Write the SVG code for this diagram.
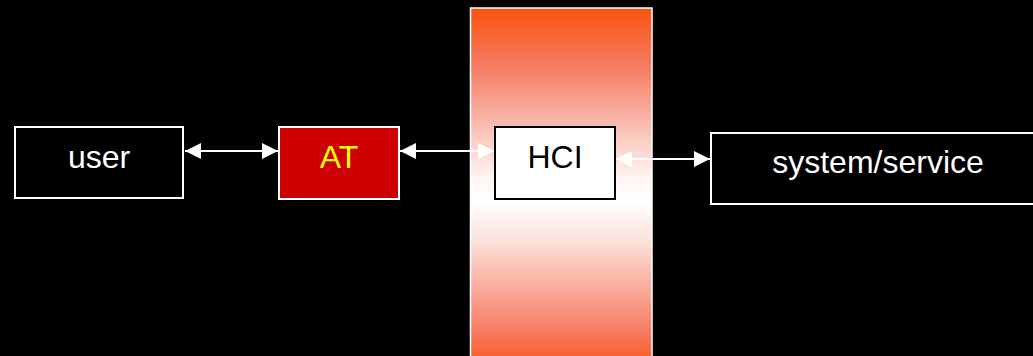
<svg xmlns="http://www.w3.org/2000/svg" width="1033" height="356" viewBox="0 0 1033 356">
<style>
.box{stroke:#ffffff;stroke-width:2}
.lbl{font-family:"Liberation Sans",Arial,sans-serif;font-size:32px;text-anchor:middle}
.con{stroke:#ffffff;stroke-width:2;fill:none}
</style>
<defs>
<linearGradient id="band" x1="0" y1="0" x2="0" y2="1">
<stop offset="0" stop-color="#F8530F"/>
<stop offset="0.16" stop-color="#F67A60"/>
<stop offset="0.34" stop-color="#F9C2B6"/>
<stop offset="0.47" stop-color="#FFF4F1"/>
<stop offset="0.54" stop-color="#FFFFFF"/>
<stop offset="0.64" stop-color="#FCE4DE"/>
<stop offset="0.76" stop-color="#F9B3A4"/>
<stop offset="0.9" stop-color="#F67A60"/>
<stop offset="1" stop-color="#F8561A"/>
</linearGradient>
<marker id="ah" viewBox="0 0 16 16" refX="16" refY="8" markerWidth="16" markerHeight="16" markerUnits="userSpaceOnUse" orient="auto-start-reverse">
<path d="M0,0 L16,8 L0,16 Z" fill="#ffffff"/>
</marker>
</defs>
<rect width="1033" height="356" fill="#000000"/>
<g id="band-hci">
<rect x="470.5" y="8" width="181.5" height="360" fill="url(#band)" stroke="#ffffff" stroke-width="1.5"/>
</g>
<g id="connectors">
<line class="con" x1="185" y1="151" x2="278" y2="151" marker-start="url(#ah)" marker-end="url(#ah)"/>
<line class="con" x1="400" y1="151" x2="494" y2="151" marker-start="url(#ah)" marker-end="url(#ah)"/>
<line class="con" x1="616" y1="159" x2="710" y2="159" marker-start="url(#ah)" marker-end="url(#ah)"/>
</g>
<g id="user">
<rect class="box" x="15" y="127" width="168" height="71" fill="#000000"/>
<text class="lbl" x="99" y="168" fill="#ffffff">user</text>
</g>
<g id="at">
<rect class="box" x="279" y="127" width="120" height="72" fill="#CC0000"/>
<text class="lbl" x="339" y="168" fill="#FFFF00">AT</text>
</g>
<g id="hci">
<rect x="495" y="127" width="120" height="72" fill="#ffffff" stroke="#000000" stroke-width="2"/>
<text class="lbl" x="555" y="168" fill="#000000">HCI</text>
</g>
<g id="system">
<rect class="box" x="711" y="133" width="330" height="71" fill="#000000"/>
<text class="lbl" x="878" y="173" fill="#ffffff">system/service</text>
</g>
</svg>
